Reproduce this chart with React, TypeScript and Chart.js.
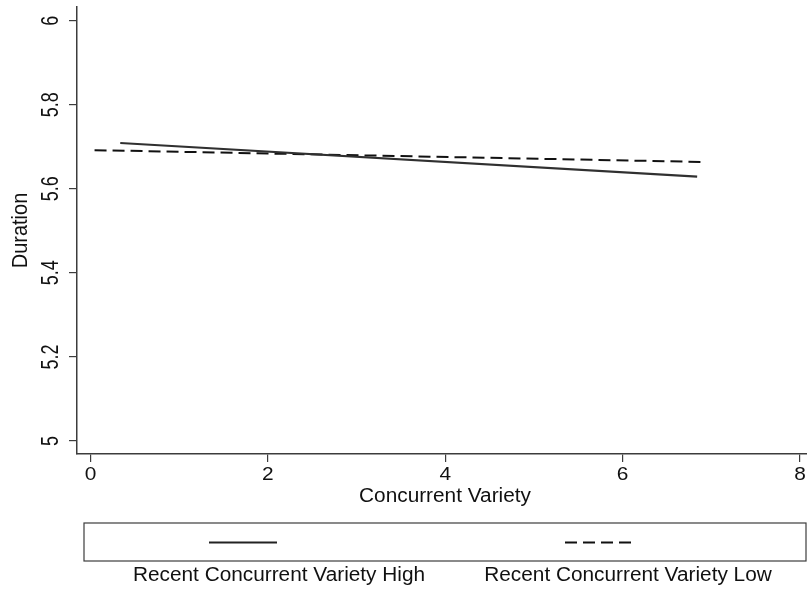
import React, { useEffect, useRef } from "react";
import { Chart, registerables } from "chart.js";

Chart.register(...registerables);

// ---- data ----
const xTickValues = [0, 2, 4, 6, 8];
const yTickValues = [5, 5.2, 5.4, 5.6, 5.8, 6];
const yTickLabels = ["5", "5.2", "5.4", "5.6", "5.8", "6"];
const highX = [0.335, 6.84];
const highY = [5.709, 5.629];
const lowX = [0.045, 6.88];
const lowY = [5.692, 5.664];
const seriesNames = ["Recent Concurrent Variety High", "Recent Concurrent Variety Low"];
const xTitle = "Concurrent Variety";
const yTitle = "Duration";

const FAMILY = '"Liberation Sans", Arial, sans-serif';
const TEXT = "#111";
const AXIS = "#3c3c3c";

function stretchedText(
  ctx: CanvasRenderingContext2D,
  str: string,
  x: number,
  y: number,
  size: number,
  sx: number,
  rotate = false
) {
  ctx.save();
  ctx.font = `${size}px ${FAMILY}`;
  ctx.translate(x, y);
  ctx.scale(sx, 1);
  if (rotate) ctx.rotate(-Math.PI / 2);
  ctx.fillText(str, 0, 0);
  ctx.restore();
}

const decorPlugin = {
  id: "decor",
  afterDraw(chart: any) {
    const ctx: CanvasRenderingContext2D = chart.ctx;
    const xs = chart.scales.x;
    const ys = chart.scales.y;
    const area = chart.chartArea;
    ctx.save();
    ctx.fillStyle = TEXT;
    ctx.textAlign = "center";
    ctx.textBaseline = "middle";
    // x tick labels
    xTickValues.forEach((v) => {
      stretchedText(ctx, String(v), xs.getPixelForValue(v), area.bottom + 20.5, 19, 1.1);
    });
    // y tick labels (rotated)
    yTickValues.forEach((v, i) => {
      stretchedText(ctx, yTickLabels[i], 52, ys.getPixelForValue(v), 18, 1.28, true);
    });
    // axis titles
    stretchedText(ctx, xTitle, 445, area.bottom + 42, 20, 1.04);
    stretchedText(ctx, yTitle, 21, (area.top + area.bottom) / 2, 20, 1.08, true);

    // legend box
    const boxL = 84, boxR = 806, boxT = 523, boxB = 561;
    ctx.strokeStyle = AXIS;
    ctx.lineWidth = 1.2;
    ctx.strokeRect(boxL, boxT, boxR - boxL, boxB - boxT);
    const sampleY = 542.5;
    ctx.lineWidth = 2;
    ctx.strokeStyle = "#222";
    ctx.setLineDash([]);
    ctx.beginPath();
    ctx.moveTo(209, sampleY);
    ctx.lineTo(277, sampleY);
    ctx.stroke();
    ctx.setLineDash([12, 6]);
    ctx.strokeStyle = "#111";
    ctx.beginPath();
    ctx.moveTo(565, sampleY);
    ctx.lineTo(633, sampleY);
    ctx.stroke();
    ctx.setLineDash([]);
    stretchedText(ctx, seriesNames[0], 279, 575, 20, 1.04);
    stretchedText(ctx, seriesNames[1], 628, 575, 20, 1.04);
    ctx.restore();
  },
};

export default function App() {
  const ref = useRef<HTMLCanvasElement | null>(null);
  useEffect(() => {
    if (!ref.current) return;
    const chart = new Chart(ref.current, {
      type: "line",
      data: {
        datasets: [
          {
            label: seriesNames[0],
            data: highX.map((x, i) => ({ x, y: highY[i] })),
            borderColor: "#303030",
            borderWidth: 2.2,
            pointRadius: 0,
            fill: false,
          },
          {
            label: seriesNames[1],
            data: lowX.map((x, i) => ({ x, y: lowY[i] })),
            borderColor: "#111111",
            borderWidth: 2,
            borderDash: [12, 6],
            pointRadius: 0,
            fill: false,
          },
        ],
      },
      options: {
        animation: false,
        responsive: false,
        devicePixelRatio: 1,
        layout: { padding: { top: 7, right: 0, left: 0, bottom: 0 } },
        plugins: { legend: { display: false }, tooltip: { enabled: false } },
        scales: {
          x: {
            type: "linear",
            position: "bottom",
            min: -0.153,
            max: 8.079,
            afterBuildTicks: (s: any) => {
              s.ticks = xTickValues.map((v) => ({ value: v }));
            },
            afterFit: (s: any) => {
              s.height = 140;
            },
            ticks: { display: false },
            grid: { drawOnChartArea: false, drawTicks: true, tickLength: 8, color: AXIS, lineWidth: 1.2 },
            border: { display: true, color: AXIS, width: 1.5 },
          },
          y: {
            type: "linear",
            position: "left",
            min: 4.969,
            max: 6.0326,
            afterBuildTicks: (s: any) => {
              s.ticks = yTickValues.map((v) => ({ value: v }));
            },
            afterFit: (s: any) => {
              s.width = 77;
            },
            ticks: { display: false },
            grid: { drawOnChartArea: false, drawTicks: true, tickLength: 8, color: AXIS, lineWidth: 1.2 },
            border: { display: true, color: AXIS, width: 1.5 },
          },
        },
      },
      plugins: [decorPlugin],
    } as any);
    return () => chart.destroy();
  }, []);
  return (
    <div style={{ position: "absolute", left: 0, top: 0, width: 807, height: 594, background: "#fff" }}>
      <canvas ref={ref} width={807} height={594} style={{ display: "block" }} />
    </div>
  );
}
